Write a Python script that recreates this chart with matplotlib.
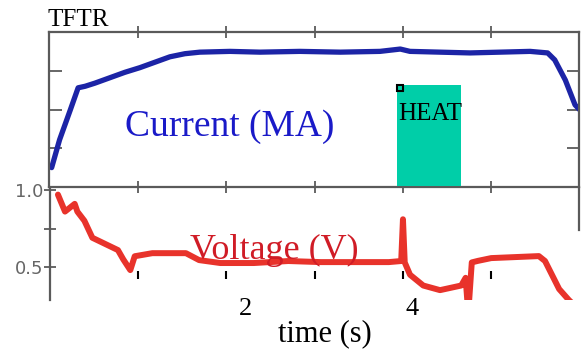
import matplotlib.pyplot as plt
from matplotlib.patches import Rectangle

# plasma current trace (MA) against time (s)
t_current = [0.02, 0.11, 0.23, 0.32, 0.40, 0.51, 0.68, 0.85, 1.02, 1.19, 1.36, 1.53,
             1.70, 2.04, 2.38, 2.83, 3.29, 3.74, 3.97, 4.08, 4.42, 4.76, 5.10, 5.44,
             5.64, 5.72, 5.84, 5.95, 6.00]
current = [0.25, 0.61, 0.99, 1.28, 1.30, 1.34, 1.41, 1.48, 1.54, 1.61, 1.68, 1.72,
           1.74, 1.75, 1.74, 1.75, 1.74, 1.75, 1.78, 1.75, 1.74, 1.73, 1.74, 1.75,
           1.73, 1.64, 1.38, 1.06, 1.00]

# loop voltage trace (V)
t_voltage = [0.09, 0.17, 0.28, 0.31, 0.39, 0.48, 0.77, 0.83, 0.91, 0.96, 1.16, 1.54,
             1.69, 1.93, 2.31, 2.70, 3.07, 3.46, 3.84, 3.98, 4.00, 4.02, 4.08, 4.23,
             4.42, 4.66, 4.71, 4.74, 4.78, 4.85, 5.00, 5.54, 5.61, 5.77, 5.88, 6.00]
voltage = [0.97, 0.86, 0.91, 0.86, 0.80, 0.69, 0.61, 0.55, 0.48, 0.57, 0.59, 0.59,
           0.545, 0.526, 0.526, 0.539, 0.532, 0.532, 0.532, 0.539, 0.81, 0.53, 0.45, 0.38,
           0.35, 0.38, 0.43, 0.20, 0.53, 0.54, 0.558, 0.571, 0.539, 0.357, 0.286, 0.22]

heat_window = [3.93, 4.66]
time_labels = ["2", "4"]

serif = ["Liberation Serif", "DejaVu Serif"]
frame = "#5a5a5a"

fig = plt.figure(figsize=(5.82, 3.5), dpi=100)

# upper panel: current
ax_i = fig.add_axes([49 / 582, 1 - 187 / 350, 530 / 582, 155 / 350])
ax_i.plot(t_current, current, color="#1c24a6", lw=3.8, solid_capstyle="round")
ax_i.set_xlim(-0.01, 5.995)
ax_i.set_ylim(0, 2.0)
ax_i.set_xticks([1, 2, 3, 4, 5])
ax_i.set_yticks([0.5, 1.0, 1.5])
ax_i.tick_params(axis="x", direction="inout", length=9, width=1.3, color=frame,
                 top=True, labelbottom=False)
ax_i.tick_params(axis="y", direction="in", length=9, width=1.3, color=frame,
                 right=True, labelleft=False)
for s in ax_i.spines.values():
    s.set_color(frame)
    s.set_linewidth(1.6)

ax_i.add_patch(Rectangle((heat_window[0], 0.01), heat_window[1] - heat_window[0], 1.31,
                         facecolor="#00cea8", edgecolor="none", zorder=3))
ax_i.plot([heat_window[0] + 0.04], [1.28], marker="s", ms=5, mfc="none", mec="black",
          mew=1.5, zorder=4)
ax_i.text(heat_window[0] + 0.02, 0.86, "HEAT", family=serif, fontsize=18, color="black",
          va="baseline", zorder=5)
ax_i.text(0.85, 0.66, "Current (MA)", family=serif, fontsize=27, color="#1a1ac8",
          va="baseline")

# lower panel: voltage
ax_v = fig.add_axes([50 / 582, 1 - 300 / 350, 529 / 582, 112 / 350])
ax_v.plot(t_voltage, voltage, color="#e8332b", lw=4.3, solid_capstyle="round",
          solid_joinstyle="round")
ax_v.set_xlim(0, 5.995)
ax_v.set_ylim(0.286, 1.013)
ax_v.set_xticks([1, 2, 3, 4, 5])
ax_v.set_yticks([0.5, 0.75, 1.0])
ax_v.set_yticklabels(["0.5", "", "1.0"], fontsize=13, color="#666666")
ax_v.spines["top"].set_visible(False)
ax_v.spines["bottom"].set_position(("data", 0.45))
ax_v.spines["bottom"].set_visible(False)
ax_v.spines["right"].set_bounds(0.74, 1.013)
for s in ["left", "right"]:
    ax_v.spines[s].set_color(frame)
    ax_v.spines[s].set_linewidth(1.6)
ax_v.tick_params(axis="x", direction="inout", length=6, width=1.5, color="black",
                 labelbottom=False)
ax_v.tick_params(axis="y", direction="inout", length=8, width=1.3, color=frame, pad=1)
ax_v.patch.set_alpha(0)
ax_v.text(1.59, 0.555, "Voltage (V)", family=serif, fontsize=26, color="#d01c26",
          va="baseline")

fig.text(47 / 582, 1 - 26 / 350, "TFTR", family=serif, fontsize=18, va="baseline")
fig.text(245 / 582, 1 - 315 / 350, time_labels[0], family=serif, fontsize=19,
         ha="center", va="baseline")
fig.text(412 / 582, 1 - 315 / 350, time_labels[1], family=serif, fontsize=19,
         ha="center", va="baseline")
fig.text(325 / 582, 1 - 341 / 350, "time (s)", family=serif, fontsize=22,
         ha="center", va="baseline")

fig.savefig("out.png", dpi=100)
